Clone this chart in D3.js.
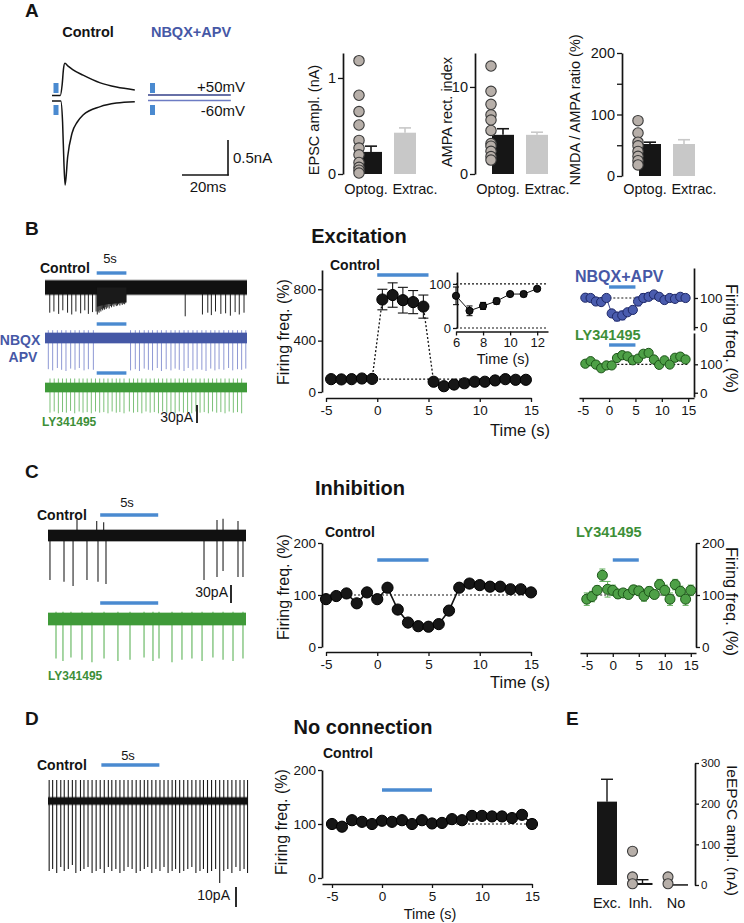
<!DOCTYPE html>
<html><head><meta charset="utf-8">
<script src="https://cdn.jsdelivr.net/npm/d3@7"></script>
<style>body{margin:0;background:#fff}svg{display:block;background:#fff}</style>
</head><body><svg id="fig" width="744" height="923"></svg>
<script>
// ================= DATA =================
// Panel A – EPSC traces (time in ms, current in nA)
const epscPlusT  = [0, 3.6, 4.4, 5.0, 5.6, 7, 9, 13.5, 21, 28, 36];
const epscPlusI  = [0, 0, 0.15, 0.38, 0.46, 0.42, 0.37, 0.29, 0.18, 0.12, 0.08];
const epscMinusT = [0, 3.8, 4.6, 5.2, 5.7, 6.8, 8.7, 11, 13.5, 21, 28, 36];
const epscMinusI = [0, 0, -0.3, -0.9, -1.2, -0.8, -0.46, -0.3, -0.2, -0.08, -0.03, -0.01];
const nbqxT = [0, 36];
const nbqxI = [0, 0];

// Panel A – bar charts
const groupsA = ["Optog.", "Extrac."];
const epscDots = [1.18, 0.82, 0.65, 0.51, 0.35, 0.27, 0.2, 0.12, 0.07, 0.04, 0.01];
const epscMean = [0.23, 0.43];
const epscSem  = [0.06, 0.05];
const rectDots = [12.4, 9.5, 8.0, 6.8, 6.2, 5.0, 3.5, 3.2, 2.6, 2.0, 1.6];
const rectMean = [4.5, 4.5];
const rectSem  = [0.7, 0.3];
const ratioDots = [90, 70, 55, 49, 40, 32, 25, 18];
const ratioMean = [52, 52];
const ratioSem  = [3, 7];

// Panel B – excitation time courses (% firing)
const excTime = [-4.5,-3.5,-2.5,-1.5,-0.5,0.5,1.5,2.5,3.5,4.5,5.5,6.5,7.5,8.5,9.5,10.5,11.5,12.5,13.5,14.5];
const excCtrl = [100,98,100,105,102,720,755,715,700,665,80,45,58,68,80,80,90,100,95,95];
const excCtrlSem = [4,4,4,4,4,80,95,100,90,90,6,6,6,6,5,5,5,5,5,5];
const insetTime = [6,7,8,9,10,11,12];
const insetVal  = [73,39,50,61,77,77,89];
const insetSem  = [20,11,8,7,4,6,4];
const excNbqx = [101,100,88,86,100,47,36,40,51,59,88,100,104,112,104,93,100,97,104,100];
const excNbqxSem = [4,4,5,5,4,10,15,15,10,8,15,15,12,8,6,6,5,5,6,8];
const excLy = [102,111,99,86,96,96,122,132,128,114,120,137,140,117,98,114,99,123,127,117];
const excLySem = [6,6,6,6,8,8,10,12,12,10,10,10,8,8,8,8,8,10,10,8];

// Panel C – inhibition time courses
const inhTime = [-5,-4,-3,-2,-1,0,1,2,3,4,5,6,7,8,9,10,11,12,13,14,15];
const inhCtrl = [92,98,103,84,105,92,114,72,47,40,39,44,70,114,122,119,116,116,111,111,105];
const inhCtrlSem = [4,3,4,5,4,5,4,5,4,3,3,3,5,6,7,6,4,4,5,4,5];
const inhLy = [92,97,109,138,111,109,102,104,101,110,108,98,107,101,120,109,92,120,107,92,109];
const inhLySem = [12,10,8,12,15,10,8,6,8,8,8,10,8,8,10,10,12,10,10,12,10];

// Panel D – no connection
const noConn = [100,95,107,104,100,106,104,107,100,107,101,102,109,107,115,115,114,114,111,117,100];
const noConnSem = [3,3,3,3,3,3,3,3,3,3,3,3,3,3,3,3,3,3,3,3,8];

// Panel E
const connTypes = ["Exc.", "Inh.", "No"];
const ieMean = [205, 5, 2];
const ieSem  = [55, 8, 0];
const ieDotsInh = [83, 20, 3];
const ieDotsNo  = [20, 3];

// Raw traces: spike times (s) and amplitudes (pA)
const bCtrlDownT = [0.8,1.5,2.3,3.0,3.8,4.5,5.2,6.0,6.7,7.3,8.0,8.6,
  8.8,8.95,9.1,9.25,9.4,9.55,9.7,9.85,10.0,10.15,10.3,10.45,10.6,10.8,11.0,11.2,11.4,11.6,11.8,12.0,12.2,12.4,12.6,12.8,13.0,13.2,13.4,13.6,
  23.6,26.5,27.4,28.0,28.7,29.6,30.4,31.2,32.0,32.7,33.5];
const bCtrlDownA = [42,40,44,38,42,45,40,43,38,44,41,40,
  45,40,42,38,40,36,38,35,37,33,36,34,32,35,31,33,30,32,29,31,30,28,30,27,29,27,28,26,
  48,45,42,46,40,44,43,47,41,45,42];
const bCtrlUpT = [1.5,3.8,6.0,8.0,9.4,11.0,12.6,13.6,16.5,19.8,23.6,26.5,28.7,30.4,32.0,33.5];
const bCtrlUpA = [8,6,9,7,10,8,9,7,6,7,9,8,10,7,9,8];
const bCtrlBurstT = [8.75, 9.5, 10.5, 11.5, 12.5, 13.7];
const bCtrlBurstA = [32, 30, 28, 27, 26, 24];
const bNbqxDownT = [0.56,1.29,2.08,2.8,3.53,4.32,5.05,5.78,6.57,7.3,8.14,
  14.4,15.2,15.9,16.7,17.4,18.1,18.9,19.6,20.4,21.2,21.9,22.6,23.4,24.1,24.9,25.6,26.4,27.1,27.9,28.6,29.3,30.1,30.9,31.6,32.4,33.1,33.8];
const bNbqxDownA = [52,54,50,53,55,51,53,50,54,52,53,
  54,52,55,51,53,54,50,55,52,54,51,53,55,50,54,52,53,55,51,54,52,53,50,54,52,53,51];
const bLyDownT = [0.84,1.55,2.25,2.95,3.6,4.3,5.0,5.75,6.4,7.1,7.8,8.5,9.2,9.9,10.6,11.3,12.0,12.6,13.3,14.2,14.9,15.6,16.3,17.0,17.7,18.4,19.1,19.8,20.5,21.2,21.9,22.6,23.3,24.0,24.7,25.4,26.1,26.8,27.5,28.2,28.9,29.6,30.3,31.0,31.7,32.4,33.1];
const bLyDownA = [42,40,43,41,42,39,43,40,42,41,43,40,42,41,43,40,42,41,43,40,42,41,43,40,42,41,43,40,42,41,43,40,42,41,43,40,42,41,43,40,42,41,43,40,42,41,43];
const cCtrlDownT = [0.17,1.38,2.16,3.36,4.31,5.0,13.45,14.57,15.09,16.38,16.81];
const cCtrlDownA = [74,77,84,74,77,81,74,69,59,69,69];
const cCtrlUpT = [2.5,4.2,4.8,14.57,15.09,16.38];
const cCtrlUpA = [26,24,22,26,28,24];
const cLyDownT = [0.69,1.29,1.98,2.93,3.79,4.83,6.03,7.07,8.28,9.05,9.57,10.69,11.55,12.41,13.28,14.22,15.09,15.95,16.81];
const cLyDownA = [66,70,64,68,72,66,70,68,64,70,66,72,68,66,70,64,68,70,66];
const dDownT = [0.1,0.4,0.75,1.1,1.4,1.75,2.1,2.4,2.8,3.1,3.45,3.8,4.15,4.5,4.85,5.2,5.5,5.85,6.2,6.55,6.9,7.25,7.6,7.95,8.3,8.6,8.95,9.3,9.65,10.0,10.35,10.7,11.0,11.35,11.7,12.05,12.4,12.75,13.1,13.4,13.75,14.1,14.45,14.8,15.15,15.5,15.85,16.2,16.55,16.9,17.2];
const dDownA = [35,34,36,33,35,34,32,36,35,34,33,36,35,34,36,33,35,34,36,35,33,34,36,35,34,33,36,34,35,33,36,35,34,36,35,34,33,36,35,34,36,35,34,41,35,34,36,33,35,34,36];
const dUpA = 10.5;

// ================= DRAWING =================
const FONT = '"Liberation Sans", Arial, Helvetica, sans-serif';
const INK = "#141414", STIM = "#4a8ad0", NB = "#4658a6", GR = "#3d8f38";
const svg = d3.select("#fig");

function text(x, y, s, o = {}) {
  const t = svg.append("text").attr("x", x).attr("y", y).text(s)
    .attr("font-family", FONT).attr("font-size", o.size || 14)
    .attr("font-weight", o.bold ? "bold" : "normal")
    .attr("fill", o.color || INK).attr("text-anchor", o.anchor || "start");
  if (o.rotate) t.attr("transform", `rotate(${o.rotate},${x},${y})`);
  return t;
}
function line(x1, y1, x2, y2, color, w, dash) {
  return svg.append("line").attr("x1", x1).attr("y1", y1).attr("x2", x2).attr("y2", y2)
    .attr("stroke", color || INK).attr("stroke-width", w || 1.3)
    .attr("stroke-dasharray", dash || null);
}
function styleAxis(g, fs) {
  g.attr("font-family", FONT).attr("font-size", fs);
  g.selectAll("text").attr("fill", INK).attr("font-size", fs).attr("font-family", FONT);
  g.selectAll(".tick line").attr("stroke", INK).attr("stroke-width", 1.3);
  g.select(".domain").attr("stroke", INK).attr("stroke-width", 1.7);
  return g;
}
const fmt = d => String(d);

// ---------- Panel letters & titles
text(25, 17, "A", {bold: true, size: 19});
text(25, 235, "B", {bold: true, size: 19});
text(25, 478, "C", {bold: true, size: 19});
text(25, 725, "D", {bold: true, size: 19});
text(566, 725, "E", {bold: true, size: 19});
text(359, 243, "Excitation", {bold: true, size: 20, anchor: "middle"});
text(360, 495, "Inhibition", {bold: true, size: 20, anchor: "middle"});
text(363, 734, "No connection", {bold: true, size: 20, anchor: "middle"});

// ---------- Panel A traces
text(88, 37, "Control", {bold: true, size: 14.5, anchor: "middle"});
text(191, 37, "NBQX+APV", {bold: true, size: 14.5, anchor: "middle", color: NB});
const xAc = d3.scaleLinear().domain([0, 36]).range([52, 52 + 36 * 2.3]);
const xAn = d3.scaleLinear().domain([0, 36]).range([148, 148 + 36 * 2.3]);
const yAup = d3.scaleLinear().domain([0, 1]).range([95.5, 25.5]);
const yAlo = d3.scaleLinear().domain([0, 1]).range([101, 31]);
function tracePath(xs, ys, T, I, color, w) {
  svg.append("path").datum(T.map((t, i) => [t, I[i]]))
    .attr("d", d3.line().x(d => xs(d[0])).y(d => ys(d[1])).curve(d3.curveMonotoneX))
    .attr("fill", "none").attr("stroke", color).attr("stroke-width", w);
}
tracePath(xAc, yAup, epscPlusT, epscPlusI, INK, 1.5);
tracePath(xAc, yAlo, epscMinusT, epscMinusI, INK, 1.5);
tracePath(xAn, d3.scaleLinear().domain([0, 1]).range([95, 25]), nbqxT, nbqxI, "#34408a", 1.4);
tracePath(xAn, d3.scaleLinear().domain([0, 1]).range([100.5, 30.5]), nbqxT, nbqxI, "#6d7cc4", 1.4);
[[xAc, 53.5], [xAn, 150]].forEach(([xs, x0]) => {
  svg.append("rect").attr("x", x0).attr("y", 83).attr("width", 5).attr("height", 10).attr("fill", STIM);
  svg.append("rect").attr("x", x0).attr("y", 105).attr("width", 5).attr("height", 10).attr("fill", STIM);
});
text(245, 92, "+50mV", {size: 15, anchor: "end"});
text(245, 116, "-60mV", {size: 15, anchor: "end"});
line(228, 140, 228, 175.5, INK, 1.6);
line(182, 175, 228.8, 175, INK, 1.6);
text(233, 163, "0.5nA", {size: 15});
text(208, 192, "20ms", {size: 15, anchor: "middle"});

// ---------- Panel A bar charts
function barChartA(axisX, ys, ticks, labels, dots, means, sems, yLabel, labX, labY) {
  const xs = d3.scalePoint().domain(groupsA).range([axisX + 28, axisX + 62]);
  const g = svg.append("g").attr("transform", `translate(${axisX},0)`)
    .call(d3.axisLeft(ys).tickValues(ticks).tickSize(5).tickSizeOuter(0).tickPadding(2)
      .tickFormat(d => labels.includes(d) ? fmt(d) : ""));
  styleAxis(g, 14.5);
  const bw = 22;
  groupsA.forEach((k, i) => {
    const cx = xs(k);
    const col = i === 0 ? "#161616" : "#c8c8c8";
    line(cx, ys(means[i]), cx, ys(means[i] + sems[i]), col, 1.6);
    line(cx - 6, ys(means[i] + sems[i]), cx + 6, ys(means[i] + sems[i]), col, 1.6);
    svg.append("rect").attr("x", cx - bw / 2).attr("y", ys(means[i]))
      .attr("width", bw).attr("height", ys(0) - ys(means[i])).attr("fill", col);
  });
  svg.append("g").selectAll("circle").data(dots).join("circle")
    .attr("cx", xs(groupsA[0]) - 12).attr("cy", d => ys(d)).attr("r", 5.2)
    .attr("fill", "#b7afa9").attr("stroke", "#3a3a3a").attr("stroke-width", 1.1);
  text(xs(groupsA[0]) - 5, 194, groupsA[0], {size: 14.5, anchor: "middle"});
  text(xs(groupsA[1]) + 10, 194, groupsA[1], {size: 14.5, anchor: "middle"});
  text(labX, labY, yLabel, {size: 14.5, anchor: "middle", rotate: -90});
}
barChartA(343, d3.scaleLinear().domain([0, 1.26]).range([174, 53]), [0, 1], [0, 1],
  epscDots, epscMean, epscSem, "EPSC ampl. (nA)", 319, 120);
barChartA(475, d3.scaleLinear().domain([0, 13.9]).range([174, 53]), [0, 10], [0, 10],
  rectDots, rectMean, rectSem, "AMPA rect. index", 452, 112);
barChartA(622, d3.scaleLinear().domain([0, 200]).range([176, 53]), [0, 50, 100, 150, 200], [0, 100, 200],
  ratioDots, ratioMean, ratioSem, "NMDA / AMPA ratio (%)", 580, 110);

// ---------- Raw trace helper
function rawTrace(xs, base, k, half, bandCol, spikeCol, downT, downA, upT, upA, sw) {
  const y = d3.scaleLinear().domain([-1, 1]).range([base + k, base - k]);
  const g = svg.append("g");
  g.selectAll("line.dn").data(downT).join("line").attr("class", "dn")
    .attr("x1", d => xs(d)).attr("x2", d => xs(d)).attr("y1", base)
    .attr("y2", (d, i) => y(-downA[i])).attr("stroke", spikeCol).attr("stroke-width", sw);
  if (upT) g.selectAll("line.up").data(upT).join("line").attr("class", "up")
    .attr("x1", d => xs(d)).attr("x2", d => xs(d)).attr("y1", base)
    .attr("y2", (d, i) => y(Array.isArray(upA) ? upA[i] : upA)).attr("stroke", spikeCol).attr("stroke-width", sw);
  const [r0, r1] = xs.range();
  g.append("rect").attr("x", r0).attr("y", base - half).attr("width", r1 - r0).attr("height", 2 * half).attr("fill", bandCol);
  g.append("rect").attr("x", r0).attr("y", base - half - 1).attr("width", r1 - r0).attr("height", 2 * half + 2)
    .attr("fill", bandCol).attr("opacity", 0.35);
  return y;
}
function stimBar(xs, t0, y) { line(xs(t0), y, xs(t0 + 5), y, STIM, 3.4); }

// ---------- Panel B traces
const xBt = d3.scaleLinear().domain([0, 34]).range([45, 247]);
text(40, 273, "Control", {bold: true, size: 14});
text(110, 263, "5s", {size: 13, anchor: "middle"});
stimBar(xBt, 8.7, 273);
const yBc = rawTrace(xBt, 287.5, 0.6, 7, "#111", "#222", bCtrlDownT, bCtrlDownA, bCtrlUpT, bCtrlUpA, 1);
svg.append("path").datum(bCtrlBurstT.map((t, i) => [t, bCtrlBurstA[i]]))
  .attr("d", d3.area().x(d => xBt(d[0])).y0(287.5).y1(d => yBc(-d[1])))
  .attr("fill", "#1a1a1a");
stimBar(xBt, 8.7, 324);
rawTrace(xBt, 338, 0.6, 5, NB, "#8e98d4", bNbqxDownT, bNbqxDownA, bNbqxDownT, 13, 1);
text(20, 345, "NBQX", {bold: true, size: 14, color: NB, anchor: "middle"});
text(23, 362, "APV", {bold: true, size: 14, color: NB, anchor: "middle"});
stimBar(xBt, 8.7, 373);
rawTrace(xBt, 387.5, 0.6, 4.5, "#3f9a3a", "#7cc178", bLyDownT, bLyDownA, bLyDownT, 15, 1);
text(42, 426, "LY341495", {bold: true, size: 12, color: GR});
text(193, 422, "30pA", {size: 14, anchor: "end"});
line(197, 405, 197, 423, INK, 1.8);

// ---------- time-course helper
function series(xs, ys, T, V, S, o) {
  const g = svg.append("g");
  if (o.line) g.append("path").datum(T.map((t, i) => [t, V[i]]))
    .attr("d", d3.line().x(d => xs(d[0])).y(d => ys(d[1])))
    .attr("fill", "none").attr("stroke", o.lineColor || INK).attr("stroke-width", o.lineW || 1.4)
    .attr("stroke-dasharray", o.dash || null);
  T.forEach((t, i) => {
    if (!S[i]) return;
    const x = xs(t), ya = ys(V[i] - S[i]), yb = ys(V[i] + S[i]);
    const c = o.errColor || INK;
    g.append("line").attr("x1", x).attr("x2", x).attr("y1", ya).attr("y2", yb).attr("stroke", c).attr("stroke-width", 1.1);
    [ya, yb].forEach(yy => g.append("line").attr("x1", x - o.cap).attr("x2", x + o.cap).attr("y1", yy).attr("y2", yy).attr("stroke", c).attr("stroke-width", 1.1));
  });
  g.selectAll("circle").data(T).join("circle")
    .attr("cx", d => xs(d)).attr("cy", (d, i) => ys(V[i])).attr("r", o.r)
    .attr("fill", o.fill).attr("stroke", o.stroke).attr("stroke-width", o.sw || 1);
}
function refLine(xs, ys, t0, t1, v) { line(xs(t0), ys(v), xs(t1), ys(v), INK, 1.2, "2,2"); }

// ---------- Panel B middle
const xBm = d3.scaleLinear().domain([-5, 15]).range([326, 531]);
const yBm = d3.scaleLinear().domain([0, 950]).range([392, 270]);
styleAxis(svg.append("g").attr("transform", "translate(322,0)")
  .call(d3.axisLeft(yBm).tickValues([0, 400, 800]).tickSize(4).tickSizeOuter(0).tickPadding(2).tickFormat(fmt)), 13.5);
styleAxis(svg.append("g").attr("transform", "translate(0,398)")
  .call(d3.axisBottom(xBm).tickValues([-5, 0, 5, 10, 15]).tickSize(4).tickSizeOuter(0).tickPadding(3).tickFormat(fmt)), 13.5);
text(289, 332, "Firing freq. (%)", {size: 16, anchor: "middle", rotate: -90});
text(550, 436, "Time (s)", {size: 16.5, anchor: "end"});
text(330, 270, "Control", {bold: true, size: 14});
line(xBm(0), 275, xBm(5), 275, STIM, 3.4);
refLine(xBm, yBm, -4.5, 15, 100);
series(xBm, yBm, excTime, excCtrl, excCtrlSem, {line: true, dash: "2,2", lineW: 1.3, r: 5.6, fill: "#161616", stroke: "#000", cap: 5});

// inset
const xIn = d3.scaleLinear().domain([6, 12.8]).range([456, 548]);
const yIn = d3.scaleLinear().domain([0, 127]).range([328, 272]);
styleAxis(svg.append("g").attr("transform", "translate(457,0)")
  .call(d3.axisLeft(yIn).tickValues([0, 100]).tickSize(4).tickSizeOuter(0).tickPadding(2).tickFormat(fmt)), 13);
styleAxis(svg.append("g").attr("transform", "translate(0,331.5)")
  .call(d3.axisBottom(xIn).tickValues([6, 8, 10, 12]).tickSize(4).tickSizeOuter(0).tickPadding(2).tickFormat(fmt)), 13);
refLine(xIn, yIn, 6, 12.8, 100);
refLine(xIn, yIn, 6, 12.8, 0);
text(503, 364, "Time (s)", {size: 14.5, anchor: "middle"});
series(xIn, yIn, insetTime, insetVal, insetSem, {line: true, lineW: 1, r: 3.6, fill: "#161616", stroke: "#000", cap: 3});

// ---------- Panel B right
const xBr = d3.scaleLinear().domain([-5.7, 16.1]).range([579, 694]);
const yBr1 = d3.scaleLinear().domain([-10, 203]).range([330, 268]);
const yBr2 = d3.scaleLinear().domain([-15, 210]).range([397, 333]);
styleAxis(svg.append("g").attr("transform", "translate(694,0)")
  .call(d3.axisRight(yBr1).tickValues([0, 100]).tickSize(4).tickSizeOuter(0).tickPadding(2).tickFormat(fmt)), 13.5);
styleAxis(svg.append("g").attr("transform", "translate(694,0)")
  .call(d3.axisRight(yBr2).tickValues([0, 100]).tickSize(4).tickSizeOuter(0).tickPadding(2).tickFormat(fmt)), 13.5);
styleAxis(svg.append("g").attr("transform", "translate(0,398)")
  .call(d3.axisBottom(xBr).tickValues([-5, 0, 5, 10, 15]).tickSize(4).tickSizeOuter(0).tickPadding(3).tickFormat(fmt)), 13.5);
text(726, 284, "Firing freq. (%)", {size: 16.5, rotate: 90});
text(575, 282, "NBQX+APV", {bold: true, size: 16, color: NB});
line(xBr(0), 287, xBr(5), 287, STIM, 3.4);
refLine(xBr, yBr1, -4.5, 15, 100);
series(xBr, yBr1, excTime, excNbqx, excNbqxSem, {line: true, lineColor: "#3a4590", lineW: 1, r: 4.6, fill: "#4a5cae", stroke: "#1e2866", cap: 3, errColor: "#6a74c0"});
text(575, 340, "LY341495", {bold: true, size: 14.5, color: GR});
line(xBr(0), 345, xBr(5), 345, STIM, 3.4);
refLine(xBr, yBr2, -4.5, 15, 100);
series(xBr, yBr2, excTime, excLy, excLySem, {line: true, lineColor: "#2f6e2b", lineW: 1, r: 4.6, fill: "#4ea047", stroke: "#1d5519", cap: 3, errColor: "#6cb566"});

// ---------- Panel C traces
const xCt = d3.scaleLinear().domain([0, 17.07]).range([48, 246]);
text(37, 520, "Control", {bold: true, size: 14});
text(127, 507, "5s", {size: 13, anchor: "middle"});
stimBar(xCt, 4.5, 515);
rawTrace(xCt, 535.5, 0.6, 5.5, "#111", "#222", cCtrlDownT, cCtrlDownA, cCtrlUpT, cCtrlUpA, 1.1);
text(228, 597, "30pA", {size: 14, anchor: "end"});
line(231, 585, 231, 603, INK, 1.8);
stimBar(xCt, 4.5, 603);
rawTrace(xCt, 619, 0.6, 6, "#3f9a3a", "#5fb45a", cLyDownT, cLyDownA, cLyDownT, 12, 1.1);
text(48, 680, "LY341495", {bold: true, size: 12, color: GR});

// ---------- Panel C middle
const xCm = d3.scaleLinear().domain([-5, 15]).range([326, 531]);
const yC = d3.scaleLinear().domain([0, 200]).range([647, 543]);
styleAxis(svg.append("g").attr("transform", "translate(322,0)")
  .call(d3.axisLeft(yC).tickValues([0, 100, 200]).tickSize(4).tickSizeOuter(0).tickPadding(2).tickFormat(fmt)), 13.5);
styleAxis(svg.append("g").attr("transform", "translate(0,652)")
  .call(d3.axisBottom(xCm).tickValues([-5, 0, 5, 10, 15]).tickSize(4).tickSizeOuter(0).tickPadding(3).tickFormat(fmt)), 13.5);
text(289, 587, "Firing freq. (%)", {size: 16, anchor: "middle", rotate: -90});
text(550, 688, "Time (s)", {size: 16.5, anchor: "end"});
text(325, 537, "Control", {bold: true, size: 14});
line(xCm(0), 560, xCm(5), 560, STIM, 3.4);
refLine(xCm, yC, -5, 15, 100);
series(xCm, yC, inhTime, inhCtrl, inhCtrlSem, {line: true, lineW: 1.6, r: 5.6, fill: "#161616", stroke: "#000", cap: 4});

// ---------- Panel C right
const xCr = d3.scaleLinear().domain([-6.3, 16]).range([580, 696]);
styleAxis(svg.append("g").attr("transform", "translate(696,0)")
  .call(d3.axisRight(yC).tickValues([0, 100, 200]).tickSize(4).tickSizeOuter(0).tickPadding(2).tickFormat(fmt)), 13.5);
styleAxis(svg.append("g").attr("transform", "translate(0,653)")
  .call(d3.axisBottom(xCr).tickValues([-5, 0, 5, 10, 15]).tickSize(4).tickSizeOuter(0).tickPadding(3).tickFormat(fmt)), 13.5);
text(726, 547, "Firing freq. (%)", {size: 16.5, rotate: 90});
text(576, 537, "LY341495", {bold: true, size: 14.5, color: GR});
line(xCr(0), 560, xCr(5), 560, STIM, 3.4);
refLine(xCr, yC, -5.5, 15, 100);
series(xCr, yC, inhTime, inhLy, inhLySem, {line: false, r: 5, fill: "#4ea047", stroke: "#1d5519", cap: 3, errColor: "#6cb566"});

// ---------- Panel D trace
const xDt = d3.scaleLinear().domain([0, 17.24]).range([48, 248]);
text(37, 770, "Control", {bold: true, size: 14});
text(128, 760, "5s", {size: 13, anchor: "middle"});
stimBar(xDt, 4.6, 765);
rawTrace(xDt, 801, 2, 3.5, "#111", "#1a1a1a", dDownT, dDownA, dDownT, dUpA, 1.1);
text(230, 900, "10pA", {size: 14, anchor: "end"});
line(236, 887, 236, 907, INK, 1.8);

// ---------- Panel D middle
const xDm = d3.scaleLinear().domain([-6, 15]).range([322, 532]);
const yD = d3.scaleLinear().domain([0, 200]).range([878, 770]);
styleAxis(svg.append("g").attr("transform", "translate(322,0)")
  .call(d3.axisLeft(yD).tickValues([0, 100, 200]).tickSize(4).tickSizeOuter(0).tickPadding(2).tickFormat(fmt)), 13.5);
styleAxis(svg.append("g").attr("transform", "translate(0,884)")
  .call(d3.axisBottom(xDm).tickValues([-5, 0, 5, 10, 15]).tickSize(4).tickSizeOuter(0).tickPadding(3).tickFormat(fmt)), 13.5);
text(287, 822, "Firing freq. (%)", {size: 16, anchor: "middle", rotate: -90});
text(430, 919, "Time (s)", {size: 14.5, anchor: "middle"});
text(323, 758, "Control", {bold: true, size: 14});
line(xDm(0), 790, xDm(5), 790, STIM, 3.4);
refLine(xDm, yD, -5, 15, 100);
series(xDm, yD, inhTime, noConn, noConnSem, {line: true, lineW: 1.6, r: 5.6, fill: "#161616", stroke: "#000", cap: 4});

// ---------- Panel E
const xE = d3.scalePoint().domain(connTypes).range([607, 678]);
const yE = d3.scaleLinear().domain([0, 300]).range([885, 763]);
styleAxis(svg.append("g").attr("transform", "translate(695,0)")
  .call(d3.axisRight(yE).tickValues([0, 100, 200, 300]).tickSize(4).tickSizeOuter(0).tickPadding(2).tickFormat(fmt)), 11.5);
connTypes.forEach((k, i) => {
  const cx = xE(k), bw = 20;
  if (ieSem[i]) {
    line(cx, yE(ieMean[i]), cx, yE(ieMean[i] + ieSem[i]), INK, 1.4);
    line(cx - 6, yE(ieMean[i] + ieSem[i]), cx + 6, yE(ieMean[i] + ieSem[i]), INK, 1.4);
  }
  svg.append("rect").attr("x", cx - bw / 2).attr("y", yE(ieMean[i])).attr("width", bw)
    .attr("height", Math.max(1.5, yE(0) - yE(ieMean[i]))).attr("fill", "#161616");
  text(cx + (i === 0 ? 0 : -2), 908, k, {size: 14.5, anchor: "middle"});
});
[[ieDotsInh, "Inh."], [ieDotsNo, "No"]].forEach(([dots, k]) => {
  svg.append("g").selectAll("circle").data(dots).join("circle")
    .attr("cx", xE(k) - 10).attr("cy", d => yE(d)).attr("r", 5)
    .attr("fill", "#b7afa9").attr("stroke", "#3a3a3a").attr("stroke-width", 1.1);
});
text(727, 765, "IeEPSC ampl. (nA)", {size: 15.5, rotate: 90});
</script></body></html>
